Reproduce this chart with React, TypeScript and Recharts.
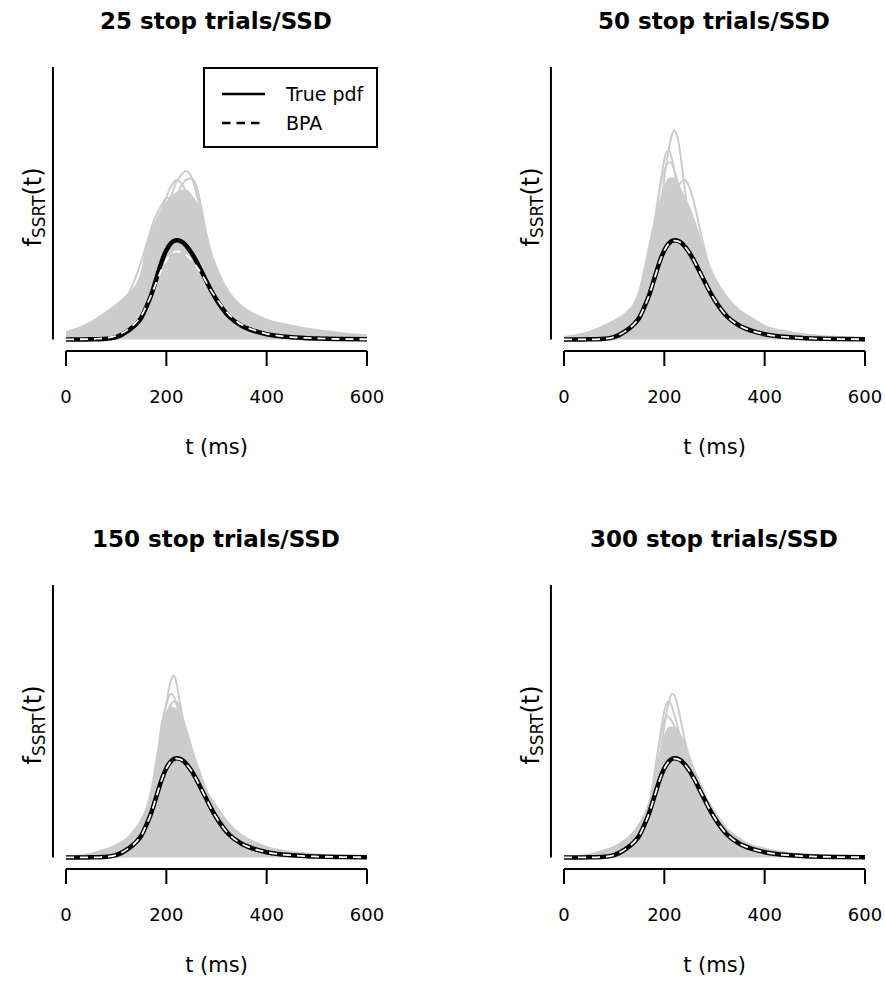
import { Area, ComposedChart, Line, ReferenceLine, XAxis, YAxis } from "recharts";

// density values are in units of 1e-3 per ms
const times = [0, 25, 50, 75, 100, 125, 140, 150, 160, 170, 180, 190, 200, 210, 220, 230, 240, 250, 260, 270, 280, 290, 300, 325, 350, 375, 400, 450, 500, 550, 600];
const truePdf = [0, 0, 0.003, 0.03, 0.19, 0.73, 1.25, 1.75, 2.6, 3.6, 4.9, 6.2, 7.2, 7.8, 8.0, 7.9, 7.55, 7.0, 6.3, 5.5, 4.7, 3.9, 3.2, 1.85, 1.1, 0.68, 0.42, 0.17, 0.07, 0.03, 0.01];
const bpa25 = [0, 0.01, 0.03, 0.1, 0.3, 0.85, 1.4, 1.9, 2.7, 3.6, 4.6, 5.6, 6.4, 6.9, 7.1, 7.05, 6.8, 6.4, 5.9, 5.3, 4.6, 3.9, 3.3, 2.0, 1.2, 0.75, 0.45, 0.19, 0.08, 0.03, 0.01];
const bpaMore = [0, 0, 0.004, 0.03, 0.2, 0.74, 1.26, 1.76, 2.6, 3.6, 4.88, 6.18, 7.18, 7.78, 7.98, 7.88, 7.53, 6.99, 6.3, 5.5, 4.7, 3.9, 3.2, 1.86, 1.1, 0.68, 0.42, 0.17, 0.07, 0.03, 0.01];

// top of the dense grey band of simulated densities, per panel
const band25 = [0.55, 0.9, 1.4, 2.05, 2.8, 3.7, 4.35, 5.3, 7.3, 8.6, 9.6, 10.4, 11.0, 11.5, 11.8, 12.0, 12.0, 11.6, 11.0, 10.0, 8.5, 6.9, 5.8, 3.8, 2.7, 2.05, 1.6, 1.1, 0.75, 0.5, 0.32];
const band50 = [0.19, 0.35, 0.6, 1.0, 1.5, 2.2, 2.9, 3.9, 5.6, 7.6, 9.4, 10.9, 12.2, 13.0, 13.0, 12.3, 11.4, 10.6, 9.5, 8.3, 7.0, 5.9, 5.0, 3.4, 2.35, 1.7, 1.1, 0.6, 0.32, 0.19, 0.1];
const band150 = [0.08, 0.15, 0.3, 0.6, 1.0, 1.65, 2.4, 3.0, 3.9, 5.4, 7.8, 10.0, 11.6, 12.1, 11.9, 11.2, 10.0, 8.7, 7.6, 6.5, 5.4, 4.7, 4.1, 2.7, 1.8, 1.25, 0.84, 0.43, 0.24, 0.13, 0.08];
const band300 = [0.05, 0.1, 0.24, 0.5, 0.84, 1.5, 2.1, 2.7, 3.4, 4.5, 6.2, 8.1, 9.7, 10.5, 10.5, 10.0, 9.2, 8.1, 7.0, 6.1, 5.15, 4.3, 3.7, 2.3, 1.5, 0.97, 0.7, 0.35, 0.19, 0.1, 0.05];

// single simulated curves that stick out above the band
const spikeTimes = [0, 120, 160, 175, 190, 200, 205, 210, 215, 220, 225, 230, 240, 250, 260, 270, 285, 300, 350, 450, 600];
const sim25a = [0.1, 1.2, 3.5, 6.0, 8.6, 10.2, 10.9, 11.6, 12.2, 12.7, 13.0, 13.3, 13.6, 13.1, 11.8, 9.8, 6.8, 4.5, 1.6, 0.4, 0.1];
const sim25b = [0.05, 0.8, 2.5, 4.6, 7.2, 8.9, 9.7, 10.4, 11.0, 11.6, 12.0, 12.4, 12.9, 13.0, 12.4, 10.6, 7.4, 5.0, 1.8, 0.45, 0.1];
const sim25c = [0.2, 2.0, 5.5, 8.0, 10.3, 11.5, 12.0, 12.4, 12.7, 12.9, 12.8, 12.6, 11.8, 10.4, 8.8, 7.2, 5.2, 3.6, 1.3, 0.3, 0.05];
const sim25d = [0.6, 3.4, 7.6, 9.6, 10.8, 11.4, 11.45, 11.3, 11.1, 10.8, 10.4, 10.0, 9.0, 8.0, 7.0, 6.0, 4.6, 3.5, 1.5, 0.5, 0.15];
const sim50a = [0, 0.2, 1.5, 4.5, 9.5, 13.0, 14.5, 15.6, 16.5, 16.9, 16.5, 15.5, 12.4, 9.4, 7.2, 5.5, 3.7, 2.5, 0.8, 0.15, 0.02];
const sim50b = [0, 0.3, 2.5, 7.0, 12.0, 14.5, 15.2, 15.2, 14.6, 13.6, 12.6, 11.6, 9.5, 7.6, 6.0, 4.6, 3.2, 2.2, 0.7, 0.15, 0.02];
const sim50c = [0, 0.2, 1.2, 3.2, 6.5, 8.6, 9.5, 10.3, 11.0, 11.6, 12.1, 12.5, 12.9, 12.3, 10.9, 9.1, 6.5, 4.5, 1.5, 0.3, 0.05];
const sim50d = [0, 0.4, 3.0, 7.8, 12.0, 13.6, 14.1, 14.3, 14.2, 13.6, 13.0, 12.0, 10.0, 8.1, 6.4, 5.0, 3.4, 2.4, 0.8, 0.2, 0.03];
const sim150a = [0, 0.1, 1.2, 4.0, 10.0, 12.3, 13.6, 14.4, 14.7, 14.1, 13.0, 11.8, 9.8, 8.2, 7.0, 5.9, 4.5, 3.4, 1.2, 0.2, 0.03];
const sim150b = [0, 0.2, 1.8, 5.5, 10.6, 12.4, 13.0, 13.2, 13.0, 12.4, 11.7, 11.0, 9.6, 8.2, 7.0, 5.9, 4.5, 3.4, 1.2, 0.2, 0.03];
const sim150c = [0, 0.3, 2.2, 5.6, 9.6, 11.4, 12.0, 12.4, 12.6, 12.6, 12.2, 11.6, 10.3, 8.9, 7.6, 6.4, 4.8, 3.6, 1.3, 0.25, 0.04];
const sim300a = [0, 0.1, 1.0, 3.2, 7.8, 10.6, 11.8, 12.7, 13.2, 13.1, 12.5, 11.6, 9.6, 8.0, 6.8, 5.8, 4.4, 3.3, 1.2, 0.2, 0.03];
const sim300b = [0, 0.2, 1.5, 4.6, 9.4, 11.8, 12.5, 12.6, 12.2, 11.5, 10.8, 10.0, 8.7, 7.5, 6.4, 5.4, 4.1, 3.1, 1.1, 0.2, 0.03];
const sim300c = [0, 0.3, 2.2, 5.5, 9.2, 11.0, 11.4, 11.3, 11.0, 10.6, 10.1, 9.6, 8.5, 7.4, 6.4, 5.5, 4.2, 3.2, 1.2, 0.25, 0.04];

const xTicks = [0, 200, 400, 600];
const titles = ["25 stop trials/SSD", "50 stop trials/SSD", "150 stop trials/SSD", "300 stop trials/SSD"];

const rows = (ts: number[], vs: number[]) => ts.map((t, i) => ({ t, v: vs[i] }));

const FONT = '"DejaVu Sans", Verdana, sans-serif';
const GREY = "#cccccc";
const W = 442;
const H = 494;
const PLOT_LEFT = 66;
const PLOT_RIGHT = 367;
const PLOT_TOP = 67;
const PLOT_BOTTOM = 351;
const X_AXIS_H = 60;
const Y_MAX = 22;
const Y_MIN = -0.937;

function LegendBox() {
  return (
    <div
      style={{
        position: "absolute",
        left: 203,
        top: 67,
        width: 171,
        height: 77,
        border: "2px solid #000",
        background: "#fff",
      }}
    >
      <svg width={171} height={77} style={{ display: "block" }}>
        <line x1={17} x2={60} y1={25} y2={25} stroke="#000" strokeWidth={2.5} />
        <line x1={17} x2={60} y1={54} y2={54} stroke="#000" strokeWidth={2.5} strokeDasharray="8.5 6" />
        <text x={81} y={25} dy="0.36em" fontSize={19} fontFamily={FONT}>
          True pdf
        </text>
        <text x={81} y={54} dy="0.36em" fontSize={19} fontFamily={FONT}>
          BPA
        </text>
      </svg>
    </div>
  );
}

function Panel({
  left,
  top,
  title,
  band,
  sims,
  bpa,
  legend,
}: {
  left: number;
  top: number;
  title: string;
  band: number[];
  sims: number[][];
  bpa: number[];
  legend?: boolean;
}) {
  return (
    <div style={{ position: "absolute", left, top, width: W, height: H }}>
      <div
        style={{
          position: "absolute",
          left: 53,
          width: 326,
          top: 10,
          textAlign: "center",
          fontFamily: FONT,
          fontWeight: "bold",
          fontSize: 23,
          lineHeight: "23px",
          whiteSpace: "nowrap",
        }}
      >
        {title}
      </div>
      <svg width={50} height={120} style={{ position: "absolute", left: 0, top: 150 }}>
        <text transform="translate(41,57) rotate(-90)" textAnchor="middle" fontSize={24} fontFamily={FONT}>
          f
          <tspan fontSize={17} dy={4}>
            SSRT
          </tspan>
          <tspan dy={-4}>(t)</tspan>
        </text>
      </svg>
      <ComposedChart
        width={W}
        height={H}
        margin={{
          top: PLOT_TOP,
          left: PLOT_LEFT,
          right: W - PLOT_RIGHT,
          bottom: H - PLOT_BOTTOM - X_AXIS_H,
        }}
        style={{ position: "absolute", left: 0, top: 0 }}
      >
        <XAxis
          type="number"
          dataKey="t"
          domain={[0, 600]}
          ticks={xTicks}
          allowDataOverflow
          height={X_AXIS_H}
          stroke="#000"
          axisLine={{ stroke: "#000", strokeWidth: 2 }}
          tickLine={{ stroke: "#000", strokeWidth: 2 }}
          tickSize={15}
          tickMargin={24}
          tick={{ fill: "#000", fontSize: 18, fontFamily: FONT }}
          label={{
            value: "t (ms)",
            position: "bottom",
            offset: 28,
            style: { fill: "#000", fontSize: 21, fontFamily: FONT },
          }}
        />
        <YAxis type="number" domain={[Y_MIN, Y_MAX]} allowDataOverflow hide />
        <Area
          data={rows(times, band)}
          dataKey="v"
          type="monotone"
          baseValue={0}
          fill={GREY}
          fillOpacity={1}
          stroke={GREY}
          strokeWidth={2}
          dot={false}
          activeDot={false}
          isAnimationActive={false}
        />
        {sims.map((s, i) => (
          <Line
            key={i}
            data={rows(spikeTimes, s)}
            dataKey="v"
            type="monotone"
            stroke={GREY}
            strokeWidth={2}
            dot={false}
            activeDot={false}
            isAnimationActive={false}
          />
        ))}
        <Line
          data={rows(times, truePdf)}
          dataKey="v"
          type="monotone"
          stroke="#000"
          strokeWidth={4.5}
          strokeLinecap="round"
          dot={false}
          activeDot={false}
          isAnimationActive={false}
        />
        <Line
          data={rows(times, bpa)}
          dataKey="v"
          type="monotone"
          stroke="#fff"
          strokeWidth={1.8}
          strokeDasharray="8 6"
          dot={false}
          activeDot={false}
          isAnimationActive={false}
        />
        <ReferenceLine
          segment={[
            { x: -26, y: 0 },
            { x: -26, y: Y_MAX },
          ]}
          ifOverflow="visible"
          stroke="#000"
          strokeWidth={2}
        />
      </ComposedChart>
      {legend && <LegendBox />}
    </div>
  );
}

export default function App() {
  return (
    <div style={{ position: "absolute", left: 0, top: 0, width: 885, height: 988, background: "#fff" }}>
      <Panel left={0} top={0} title={titles[0]} band={band25} sims={[sim25a, sim25b, sim25c, sim25d]} bpa={bpa25} legend />
      <Panel left={498} top={0} title={titles[1]} band={band50} sims={[sim50a, sim50b, sim50c, sim50d]} bpa={bpaMore} />
      <Panel left={0} top={518} title={titles[2]} band={band150} sims={[sim150a, sim150b, sim150c]} bpa={bpaMore} />
      <Panel left={498} top={518} title={titles[3]} band={band300} sims={[sim300a, sim300b, sim300c]} bpa={bpaMore} />
    </div>
  );
}
